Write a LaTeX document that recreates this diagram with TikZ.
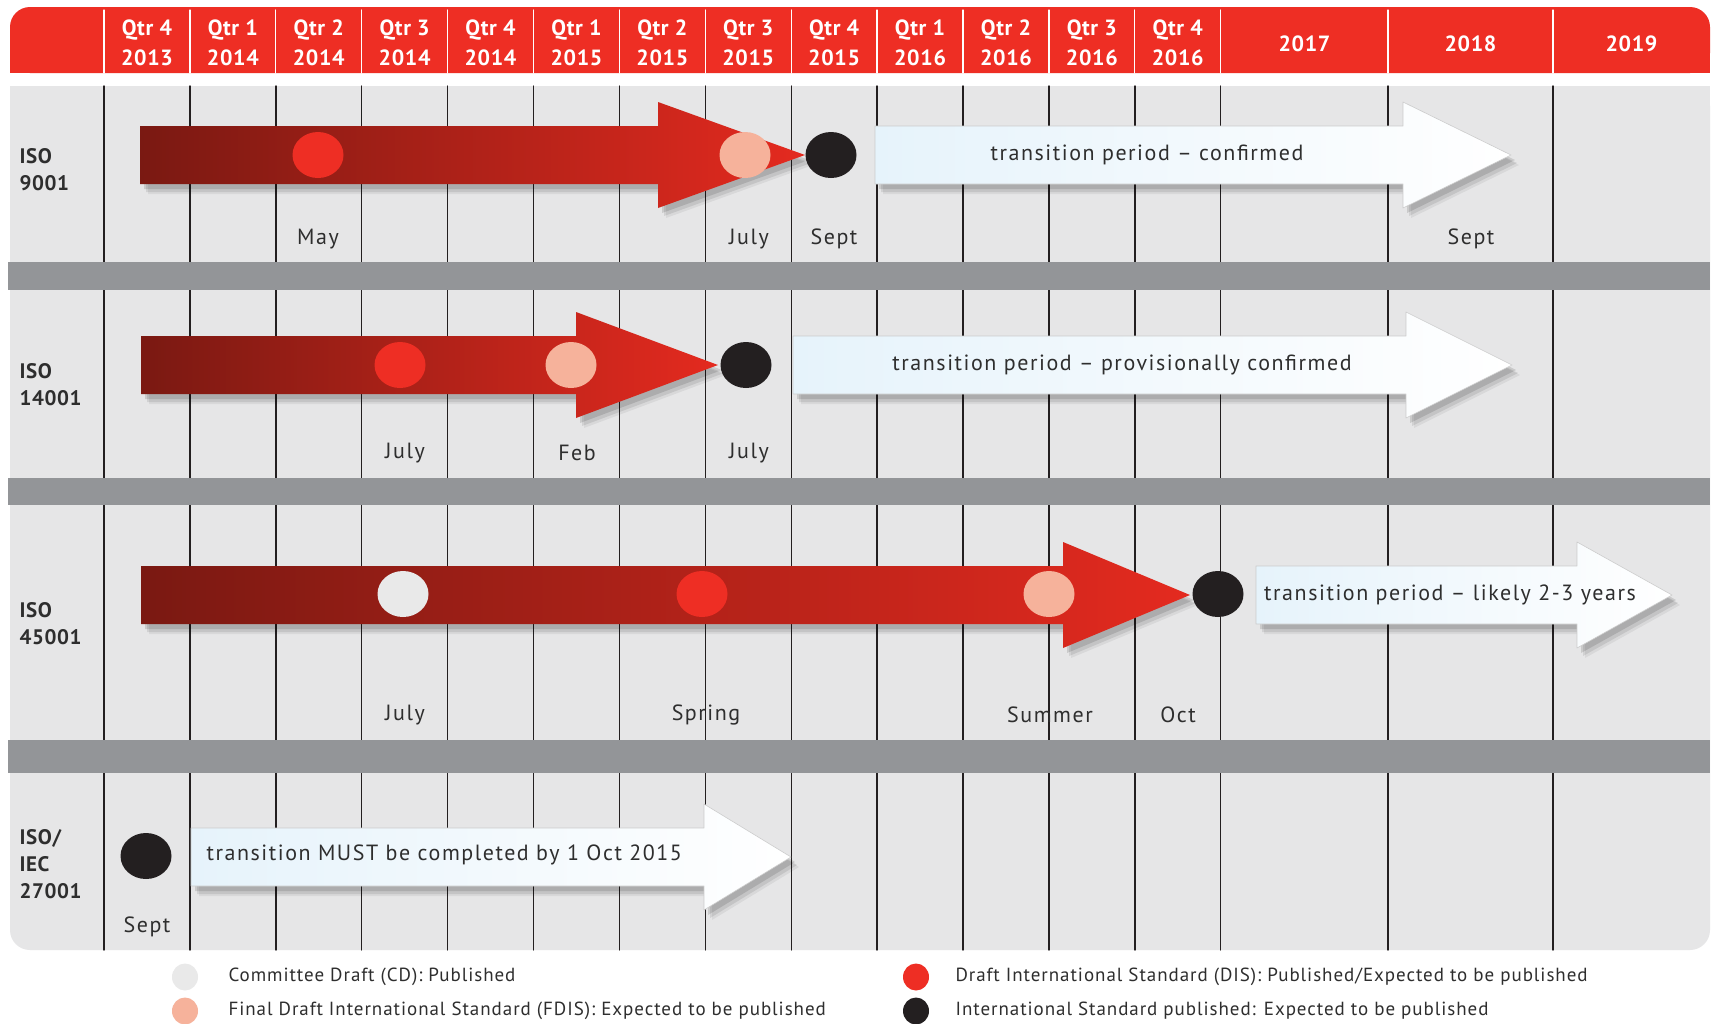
\documentclass[tikz,border=0pt]{standalone}
\usepackage{fontspec}
\setmainfont{PT Sans}
\newfontfamily\spacedfont[LetterSpace=7]{PT Sans}
\newfontfamily\keyfont[LetterSpace=5]{PT Sans}
\newfontfamily\hdrfont[LetterSpace=3]{PT Sans}
\usetikzlibrary{shapes.geometric,shadows}
\definecolor{hdrred}{HTML}{EE2E24}
\definecolor{bodygray}{HTML}{E6E6E7}
\definecolor{bandgray}{HTML}{939598}
\definecolor{darkred}{HTML}{7A1912}
\definecolor{brightred}{HTML}{E42A1F}
\definecolor{peach}{HTML}{F6B29B}
\definecolor{cdgray}{HTML}{E9E9E9}
\definecolor{isblack}{HTML}{231F20}
\definecolor{paleblue}{HTML}{E6F3FB}
\definecolor{txtgray}{HTML}{2E2E2E}
\tikzset{
  softshadow/.style={
    drop shadow={shadow xshift=8pt, shadow yshift=-10pt, opacity=0.06, fill=black},
    drop shadow={shadow xshift=6pt, shadow yshift=-8pt, opacity=0.09, fill=black},
    drop shadow={shadow xshift=4pt, shadow yshift=-5pt, opacity=0.12, fill=black}},
  hdr/.style={text=white, font=\hdrfont\fontsize{22}{30}\selectfont\bfseries, align=center},
  rowname/.style={anchor=west, align=left, text=txtgray, font=\hdrfont\fontsize{21}{27}\selectfont\bfseries},
  month/.style={text=txtgray, font=\spacedfont\fontsize{22}{24}\selectfont},
  milestone/.style={ellipse, minimum width=51pt, minimum height=46pt, inner sep=0pt},
  keydot/.style={ellipse, minimum width=26pt, minimum height=27pt, inner sep=0pt},
  redarrow/.style={left color=darkred, right color=brightred, softshadow},
  whitearrow/.style={left color=paleblue, right color=white, draw=black!20, line width=0.6pt, softshadow},
  transtext/.style={text=txtgray, font=\spacedfont\fontsize{22}{24}\selectfont},
  keytext/.style={anchor=west, text=txtgray, font=\keyfont\fontsize{19}{20}\selectfont}
}
% #1 style, #2 left end, #3 head base, #4 tip, #5 middle
\newcommand{\bigarrow}[5]{%
  \path[#1] (#2,#5-29) -- (#3,#5-29) -- (#3,#5-53) -- (#4,#5) -- (#3,#5+53)
    -- (#3,#5+29) -- (#2,#5+29) -- cycle;}
\begin{document}
\begin{tikzpicture}[x=1pt,y=-1pt,line cap=round,line join=round]
\useasboundingbox[fill=white] (0,0) rectangle (1713,1023);
% header
\fill[hdrred, rounded corners=20pt] (10,7) rectangle (1710,73);
\fill[hdrred] (10,40) rectangle (1710,73);
\foreach \x in {104,189.9,275.8,361.7,447.6,533.5,619.4,705.3,791.2,877.1,963,1048.9,1134.8,1220.7,1388,1553}
  \draw[white, line width=1.3pt] (\x,10) -- (\x,73);
\foreach \q/\yr [count=\i from 0] in {4/2013,1/2014,2/2014,3/2014,4/2014,1/2015,2/2015,3/2015,4/2015,1/2016,2/2016,3/2016,4/2016}
  \node[hdr] (q\i) at ({104+85.9*(\i+0.5)},43) {Qtr \q\\\yr};
\node[hdr] (y17) at (1304.5,44) {2017};
\node[hdr] (y18) at (1470.5,44) {2018};
\node[hdr] (y19) at (1631.5,44) {2019};
% body
\fill[bodygray, rounded corners=20pt] (10,86) rectangle (1710,950);
\fill[bodygray] (10,86) rectangle (1710,300);
\foreach \x in {104,189.9,275.8,361.7,447.6,533.5,619.4,705.3,791.2,877.1,963,1048.9,1134.8,1220.7,1388,1553}
  \draw[isblack, line width=1.4pt] (\x,86) -- (\x,950);
\fill[bandgray] (8,262) rectangle (1710,290);
\fill[bandgray] (8,478) rectangle (1710,505);
\fill[bandgray] (8,740) rectangle (1710,773);
\node[rowname] (iso9) at (16,170) {ISO\\9001};
\node[rowname] (iso14) at (16,385) {ISO\\14001};
\node[rowname] (iso45) at (16,624) {ISO\\45001};
\node[rowname] (iso27) at (16,864) {ISO/\\IEC\\27001};
% ISO 9001
\bigarrow{redarrow}{140}{658}{805}{155}
\bigarrow{whitearrow}{875}{1403}{1511}{155}
\node[transtext] (t9) at (1147,155) {transition period – confirmed};
\node[milestone, fill=hdrred] (a1) at (318,155) {};
\node[milestone, fill=peach] (a2) at (745,155) {};
\node[milestone, fill=isblack] (a3) at (831,155) {};
\node[month] (m1) at (318,239) {May};
\node[month] (m2) at (749,239) {July};
\node[month] (m3) at (834,239) {Sept};
\node[month] (m4) at (1471,239) {Sept};
% ISO 14001
\bigarrow{redarrow}{141}{576}{718}{365}
\bigarrow{whitearrow}{793}{1406}{1512}{365}
\node[transtext] (t14) at (1122,365) {transition period – provisionally confirmed};
\node[milestone, fill=hdrred] (b1) at (400,365) {};
\node[milestone, fill=peach] (b2) at (571,365) {};
\node[milestone, fill=isblack] (b3) at (746,365) {};
\node[month] (n1) at (405,453) {July};
\node[month] (n2) at (577,453) {Feb};
\node[month] (n3) at (749,453) {July};
% ISO 45001
\bigarrow{redarrow}{141}{1063}{1190}{595}
\bigarrow{whitearrow}{1256}{1577}{1672}{595}
\node[transtext] (t45) at (1450,595) {transition period – likely 2-3 years};
\node[milestone, fill=cdgray] (c1) at (403,594) {};
\node[milestone, fill=hdrred] (c2) at (702,594) {};
\node[milestone, fill=peach] (c3) at (1049,594) {};
\node[milestone, fill=isblack] (c4) at (1218,594) {};
\node[month] (p1) at (405,715) {July};
\node[month] (p2) at (706,715) {Spring};
\node[month] (p3) at (1050,715) {Summer};
\node[month] (p4) at (1178,715) {Oct};
% ISO/IEC 27001
\bigarrow{whitearrow}{191}{704}{791}{857}
\node[transtext, anchor=west] (t27) at (203,855) {transition MUST be completed by 1 Oct 2015};
\node[milestone, fill=isblack] (e1) at (146,856) {};
\node[month] (r1) at (147,927) {Sept};
% key
\node[keydot, fill=cdgray] (k1) at (185,977) {};
\node[keytext] (kt1) at (225,977) {Committee Draft (CD): Published};
\node[keydot, fill=peach] (k2) at (185,1011) {};
\node[keytext] (kt2) at (225,1011) {Final Draft International Standard (FDIS): Expected to be published};
\node[keydot, fill=hdrred] (k3) at (916,977) {};
\node[keytext] (kt3) at (952,977) {Draft International Standard (DIS): Published/Expected to be published};
\node[keydot, fill=isblack] (k4) at (916,1011) {};
\node[keytext] (kt4) at (952,1011) {International Standard published: Expected to be published};
\end{tikzpicture}
\end{document}
